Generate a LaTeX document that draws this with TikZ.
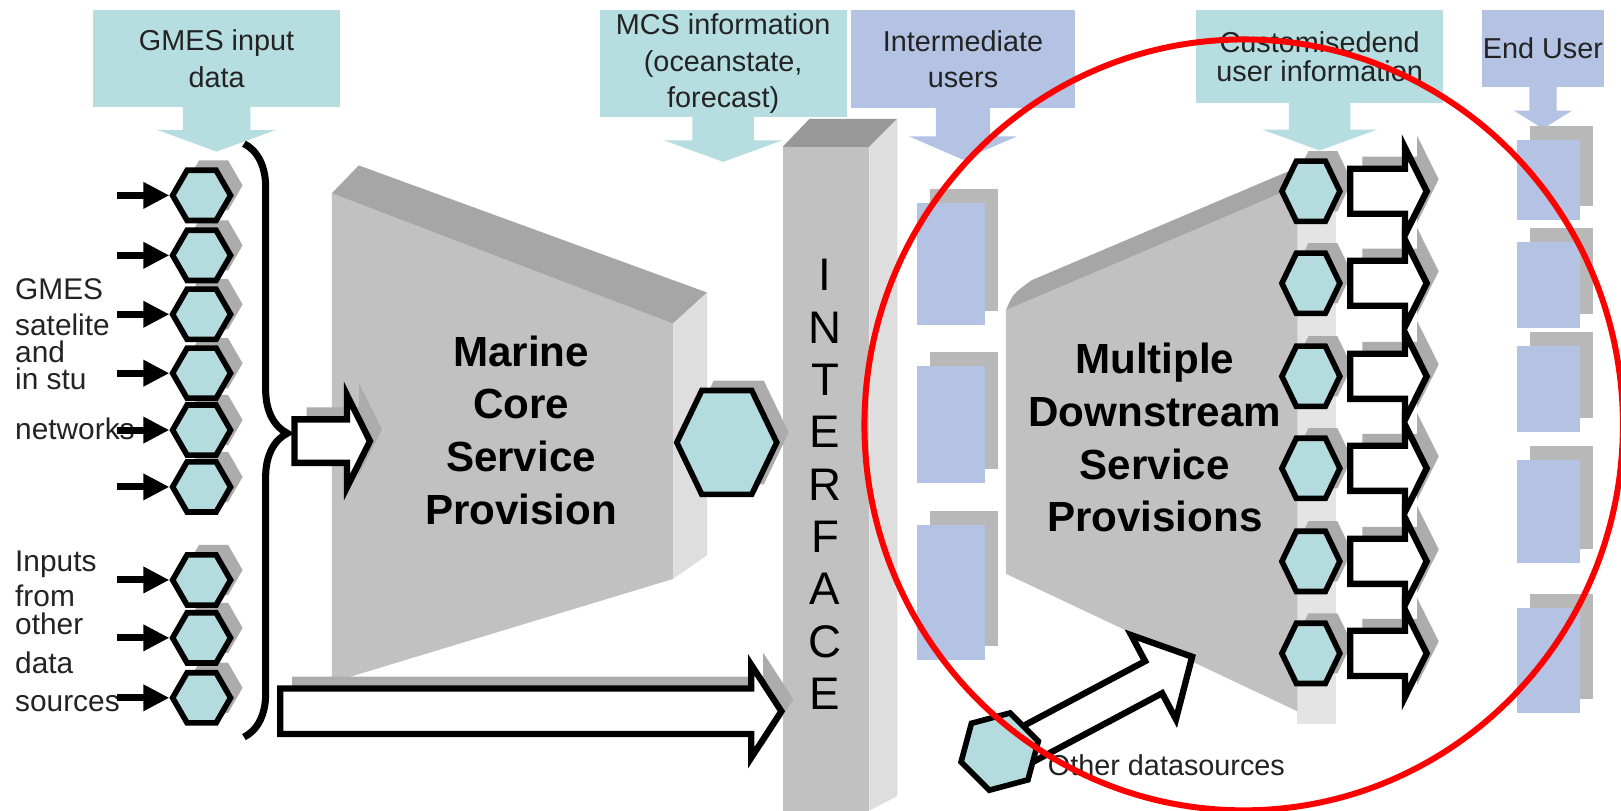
\documentclass[tikz,border=0pt]{standalone}
\usepackage{fontspec}
\setmainfont{Liberation Sans}
\usetikzlibrary{shapes.geometric,shapes.arrows,shadows,arrows.meta,decorations.pathreplacing}
\definecolor{myteal}{RGB}{182,222,224}
\definecolor{mylilac}{RGB}{180,195,228}
\definecolor{myhex}{RGB}{180,220,222}
\definecolor{myshade}{RGB}{172,172,172}
\definecolor{myfront}{RGB}{193,193,193}
\definecolor{mytop}{RGB}{166,166,166}
\definecolor{myside}{RGB}{222,222,222}
\definecolor{mypost}{RGB}{152,152,152}
\definecolor{mytext}{RGB}{35,35,35}
\setlength{\lineskiplimit}{-10pt}

\begin{document}
\begin{tikzpicture}[x=0.01034cm, y=-0.01034cm,
        infobox/.style={fill=myteal, minimum width=2.47cm, inner sep=0pt, align=center, text=mytext, font=\fontsize{8.2}{10.4}\selectfont},
        userbox/.style={infobox, fill=mylilac},
        droparrow/.style={single arrow, fill=myteal, inner xsep=0pt, single arrow tip angle=140, anchor=tail, rotate=-90},
        hexa/.style={regular polygon, regular polygon sides=6, draw, line width=1.6pt, fill=myhex, minimum size=0.58cm, inner sep=0pt},
        hexshade/.style={general shadow={fill=myshade, shadow xshift=0.12cm, shadow yshift=0.1cm}},
        userpage/.style={fill=mylilac, inner sep=0pt, general shadow={fill=myshade!85, shadow xshift=0.13cm, shadow yshift=0.14cm}},
        fatarrow/.style={single arrow, draw, line width=1.8pt, fill=white, inner xsep=0pt, anchor=tail, single arrow tip angle=127},
        arrowshade/.style={general shadow={fill=myshade, shadow xshift=0.12cm, shadow yshift=0.12cm}},
        feedarrow/.style={-{Triangle[length=0.26cm, width=0.25cm]}, line width=2pt},
        blocktext/.style={align=center, text=black, font=\fontsize{12}{15}\selectfont\bfseries},
        sidetext/.style={align=left, inner sep=0pt, anchor=north west, text=mytext}]

        \useasboundingbox (0,0) rectangle (1568,784);
        \fill[white] (0,0) rectangle (1568,784);

        \node[droparrow, minimum height=0.444cm, inner ysep=0.331cm, single arrow head extend=0.253cm] (gmesdrop) at (209.5,103) {};
        \node[infobox, minimum height=0.97cm] (gmes) at (209.5,57) {GMES input\\data};
        \node[droparrow, minimum height=0.454cm, inner ysep=0.3cm, single arrow head extend=0.284cm] (mcsdrop) at (699.5,112) {};
        \node[infobox, minimum height=1.065cm] (mcs) at (699.5,61.5) {MCS information\\(oceanstate,\\forecast)};
        \node[droparrow, fill=mylilac, minimum height=0.516cm, inner ysep=0.264cm, single arrow head extend=0.269cm, single arrow tip angle=133] (interdrop) at (931.5,104) {};
        \node[userbox, minimum width=2.24cm, minimum height=0.98cm] (inter) at (931.5,57.5) {Intermediate\\users};
        \node[droparrow, minimum height=0.485cm, inner ysep=0.3cm, single arrow head extend=0.269cm] (customdrop) at (1276.5,98) {};
        \node[infobox, minimum height=0.93cm] (custom) at (1276.5,55) {Customisedend\\[-2.2pt]user information};
        \node[droparrow, fill=mylilac, minimum height=0.423cm, inner ysep=0.129cm, single arrow head extend=0.155cm, single arrow tip angle=116] (enddrop) at (1492.5,83) {};
        \node[userbox, minimum width=1.23cm, minimum height=0.765cm] (enduser) at (1492.5,47) {End User};

        \fill[myfront] (321,187) -- (651,313) -- (651,560) -- (321,660) -- cycle;
        \fill[mytop] (321,187) -- (347,160) -- (684,283) -- (651,313) -- cycle;
        \fill[myside] (651,313) -- (684,283) -- (684,537) -- (651,560) -- cycle;
        \node[blocktext] (core) at (504,416) {Marine\\Core\\Service\\Provision};

        \fill[myfront] (757,142) rectangle (841,784);
        \fill[mypost] (757,142) -- (783,115) -- (868,115) -- (841,142) -- cycle;
        \fill[myside] (841,142) -- (868,115) -- (868,770) -- (841,784) -- cycle;
        \node[align=center, text=black, font=\fontsize{13}{14.9}\selectfont] (iface) at (798,468.5) {I\\N\\T\\E\\R\\F\\A\\C\\E};

        \foreach \y/\h [count=\i] in {255/1.22, 410.5/1.168, 573/1.344}
            \node[userpage, minimum width=0.68cm, minimum height=\h cm] (mid\i) at (920,\y) {};

        \fill[myside!80!white] (1255,180) rectangle (1292,700);
        \fill[myfront] (973,300) -- (1255,180) -- (1255,688) -- (973,555) -- cycle;
        \fill[mytop] (973,300) .. controls (980,284) .. (998,271) -- (1255,162) -- (1255,180) -- cycle;
        \node[blocktext] (downstream) at (1117,423.5) {Multiple\\Downstream\\Service\\Provisions};

        \foreach \y/\h [count=\i] in {174/0.807, 275.5/0.858, 376.5/0.858, 495/1.034, 639/1.055}
            \node[userpage, minimum width=0.63cm, minimum height=\h cm] (end\i) at (1497.5,\y) {};

        \node[sidetext, font=\fontsize{8.5}{7.6}\selectfont] (satlabel) at (14,269) {GMES\\[2.7pt]satelite\\and\\in stu\\[6.8pt]networks};
        \node[sidetext, font=\fontsize{8.5}{7.9}\selectfont] (otherlabel) at (14,532) {Inputs\\[2.1pt]from\\other\\[3.3pt]data\\[3pt]sources};

        \draw[line width=2pt, decorate, decoration={brace, amplitude=0.434cm, aspect=0.488}] (236,139) -- (236,713);
        \coordinate (bracetip) at (277,419);

        \foreach \y [count=\i] in {675,617,561,471,416,361,304,247,189}
        {
            \node[hexa, hexshade] (src\i) at (195,\y) {};
            \coordinate (feed\i) at (113,\y);
            \draw[feedarrow] (feed\i) -- (src\i);
        }

        \node[fatarrow, arrowshade, minimum height=0.755cm, inner ysep=0.186cm, single arrow head extend=0.243cm] (tocore) at ([xshift=0.05cm, yshift=-0.08cm]bracetip) {};
        \node[fatarrow, arrowshade, minimum height=5.015cm, inner ysep=0.196cm, single arrow head extend=0.238cm, single arrow tip angle=114] (bypass) at (268,688) {};

        \node[hexa, hexshade, minimum size=1.0cm, yscale=1.2] (coreout) at (703,428) {};

        \foreach \y [count=\i] in {632,543,453,364,274,185}
        {
            \node[hexa, hexshade, yscale=1.2] (out\i) at (1268,\y) {};
            \node[fatarrow, arrowshade, minimum height=0.765cm, inner ysep=0.194cm, single arrow head extend=0.209cm] (deliver\i) at ([xshift=0.04cm]out\i.east) {};
        }

        \node[fatarrow, rotate=28, minimum height=1.88cm, inner ysep=0.15cm, single arrow head extend=0.295cm, single arrow tip angle=95] (extra) at (990,722) {};
        \node[hexa, minimum size=0.8cm, rotate=75] (other) at (967,727) {};
        \node[anchor=west, inner sep=0pt, text=mytext, font=\fontsize{8.2}{10.4}\selectfont] (otherdata) at (1013,740) {Other datasources};

        \draw[red, line width=1.7pt] (1203,411) ellipse [x radius=3.795cm, y radius=3.857cm];
\end{tikzpicture}
\end{document}
